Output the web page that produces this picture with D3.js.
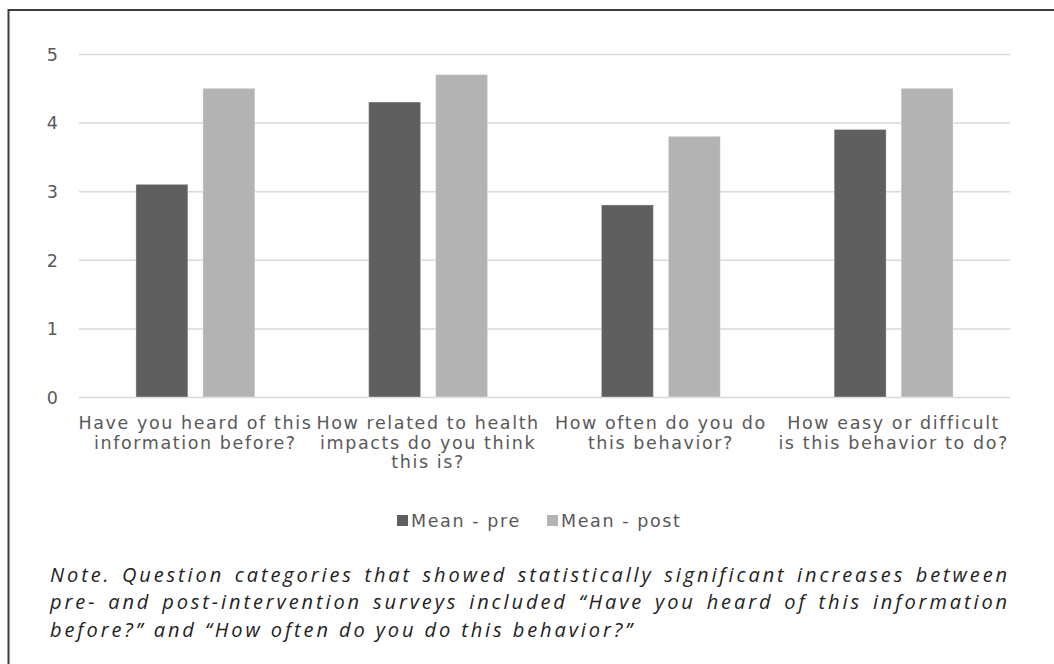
<!DOCTYPE html>
<html>
<head>
<meta charset="utf-8">
<script src="https://cdn.jsdelivr.net/npm/d3@7"></script>
<style>
  html, body { margin: 0; padding: 0; background: #fff; }
  svg { display: block; }
</style>
</head>
<body>
<svg id="chart" width="1054" height="664"></svg>
<script>
// ---- data ----
const categories = [
  "Have you heard of this information before?",
  "How related to health impacts do you think this is?",
  "How often do you do this behavior?",
  "How easy or difficult is this behavior to do?"
];
const categoryLines = [
  ["Have you heard of this", "information before?"],
  ["How related to health", "impacts do you think", "this is?"],
  ["How often do you do", "this behavior?"],
  ["How easy or difficult", "is this behavior to do?"]
];
const seriesNames = ["Mean - pre", "Mean - post"];
const meanPre  = [3.1, 4.3, 2.8, 3.9];
const meanPost = [4.5, 4.7, 3.8, 4.5];
const yTicks = [0, 1, 2, 3, 4, 5];
const noteLines = [
  "Note. Question categories that showed statistically significant increases between",
  "pre- and post-intervention surveys included \u201CHave you heard of this information",
  "before?\u201D and \u201CHow often do you do this behavior?\u201D"
];

// ---- layout ----
const svg = d3.select("#chart");
const plot = { left: 79, right: 1010, top: 54, bottom: 397 };
const axisFont = "'DejaVu Sans', Verdana, sans-serif";
const noteFont = "'Open Sans', 'Noto Sans', sans-serif";
const axisSize = 17.5;
const textColor = "#595959";
const colors = ["#5f5f5f", "#b3b3b3"];

// outer frame (only top/left visible in the crop)
svg.append("rect")
  .attr("x", 8.5).attr("y", 10).attr("width", 1100).attr("height", 700)
  .attr("fill", "none").attr("stroke", "#3c3c3c").attr("stroke-width", 2);

// calibrate letter spacing of the axis font
const probe = svg.append("text").attr("font-family", axisFont).attr("font-size", axisSize)
  .text(categoryLines[0][0]);
const natW = probe.node().getComputedTextLength();
probe.remove();
const axisLS = Math.max(0, (234 - natW) / categoryLines[0][0].length);

const y = d3.scaleLinear().domain([0, 5]).range([plot.bottom, plot.top]);
const x0 = d3.scaleBand().domain(categories).range([plot.left, plot.right])
  .paddingInner(0.489).paddingOuter(0.2445);
const x1 = d3.scaleBand().domain(seriesNames).range([0, x0.bandwidth()]).paddingInner(0.224);

// y axis + gridlines
const yAxis = d3.axisLeft(y).tickValues(yTicks).tickFormat(d3.format("d"))
  .tickSize(-(plot.right - plot.left)).tickPadding(21);
const gy = svg.append("g").attr("transform", `translate(${plot.left},0)`).call(yAxis);
gy.select(".domain").remove();
gy.selectAll(".tick line").attr("stroke", "#d9d9d9").attr("stroke-width", 1.5);
gy.selectAll(".tick text").attr("font-family", axisFont).attr("font-size", axisSize)
  .attr("fill", textColor).attr("dy", "0.36em");

// bars
const rows = categories.map((c, i) => ({ cat: c, vals: [meanPre[i], meanPost[i]] }));
const groups = svg.append("g").selectAll("g").data(rows).join("g")
  .attr("transform", d => `translate(${x0(d.cat)},0)`);
groups.selectAll("rect")
  .data(d => d.vals.map((v, j) => ({ key: seriesNames[j], v, j })))
  .join("rect")
  .attr("x", d => x1(d.key))
  .attr("width", x1.bandwidth())
  .attr("y", d => y(d.v))
  .attr("height", d => y(0) - y(d.v))
  .attr("fill", d => colors[d.j])
  .attr("stroke", "rgba(255,255,255,0.35)")
  .attr("stroke-width", 1);

// x axis labels
const xAxis = d3.axisBottom(x0).tickSize(0).tickFormat("");
const gx = svg.append("g").attr("transform", `translate(0,${plot.bottom})`).call(xAxis);
gx.select(".domain").remove();
gx.selectAll(".tick").each(function(d, i) {
  const t = d3.select(this).append("text")
    .attr("text-anchor", "middle")
    .attr("font-family", axisFont).attr("font-size", axisSize)
    .attr("letter-spacing", axisLS)
    .attr("fill", textColor);
  categoryLines[i].forEach((ln, k) => {
    t.append("tspan").attr("x", 0).attr("y", 32 + k * 19.5).text(ln);
  });
});

// legend
const legendX = [397, 547];
const leg = svg.append("g");
seriesNames.forEach((s, j) => {
  leg.append("rect").attr("x", legendX[j]).attr("y", 515).attr("width", 11).attr("height", 11)
    .attr("fill", colors[j]);
  leg.append("text").attr("x", legendX[j] + 14).attr("y", 526.5)
    .attr("font-family", axisFont).attr("font-size", axisSize)
    .attr("letter-spacing", axisLS).attr("fill", textColor).text(s);
});

// note (justified)
const noteLeft = 50, noteRight = 1010, noteSize = 20;
const probe2 = svg.append("text").attr("font-family", noteFont).attr("font-size", noteSize)
  .attr("font-style", "italic").text(noteLines[2]);
const nat2 = probe2.node().getComputedTextLength();
probe2.remove();
const noteLS = Math.max(0, (585 - nat2) / noteLines[2].length);

noteLines.forEach((ln, k) => {
  const t = svg.append("text")
    .attr("x", noteLeft).attr("y", 581.5 + k * 27.5)
    .attr("font-family", noteFont).attr("font-size", noteSize)
    .attr("font-style", "italic").attr("fill", "#222")
    .attr("letter-spacing", noteLS)
    .text(ln);
  if (k < noteLines.length - 1) {
    const w = t.node().getComputedTextLength();
    const spaces = (ln.match(/ /g) || []).length;
    t.attr("word-spacing", (noteRight - noteLeft - w) / spaces);
  }
});
</script>
</body>
</html>
